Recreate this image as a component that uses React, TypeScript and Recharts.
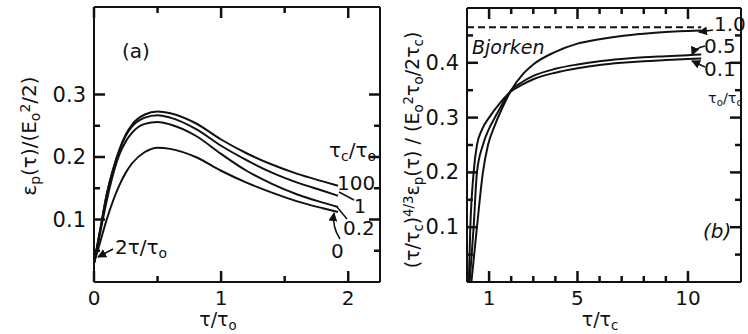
import { LineChart, Line, XAxis, YAxis } from 'recharts'

// panel (a): energy density vs tau/tau0, one curve per tau_c/tau_0
const tauA = [0, 0.05, 0.1, 0.15, 0.2, 0.25, 0.3, 0.4, 0.5, 0.6, 0.8, 1.0, 1.2, 1.4, 1.6, 1.8, 1.92]
const epsA100 = [0.03, 0.085, 0.14, 0.18, 0.212, 0.236, 0.252, 0.268, 0.273, 0.27, 0.254, 0.228, 0.206, 0.188, 0.173, 0.161, 0.154]
const epsA1 = [0.03, 0.085, 0.14, 0.18, 0.211, 0.234, 0.249, 0.263, 0.267, 0.263, 0.245, 0.218, 0.195, 0.175, 0.159, 0.146, 0.138]
const epsA02 = [0.03, 0.08, 0.13, 0.172, 0.204, 0.225, 0.239, 0.253, 0.256, 0.252, 0.234, 0.205, 0.178, 0.157, 0.14, 0.127, 0.12]
const epsA0 = [0.03, 0.065, 0.1, 0.13, 0.155, 0.175, 0.19, 0.208, 0.215, 0.213, 0.2, 0.178, 0.159, 0.143, 0.129, 0.118, 0.112]

const domXA = [0, 2.25]
const domYA = [0, 0.44]
const xTicksA = [0, 0.5, 1, 1.5, 2]
const xMajorA = [0, 1, 2]
const yTicksA = [0.05, 0.1, 0.15, 0.2, 0.25, 0.3]
const yMajorA = [0.1, 0.2, 0.3]

// panel (b): scaled energy density vs tau/tau_c, one curve per tau_0/tau_c
const tauB01 = [0.08, 0.15, 0.3, 0.45, 0.7, 1.0, 1.5, 2.0, 2.5, 3, 4, 5, 6, 7, 8, 9, 10, 10.6]
const epsB01 = [0.0, 0.1, 0.2, 0.25, 0.28, 0.3, 0.327, 0.348, 0.36, 0.37, 0.382, 0.39, 0.396, 0.4, 0.403, 0.405, 0.407, 0.408]
const tauB05 = [0.12, 0.3, 0.45, 0.72, 1.0, 1.26, 1.6, 2.0, 2.5, 3, 4, 5, 6, 7, 8, 9, 10, 10.6]
const epsB05 = [0.0, 0.1, 0.2, 0.25, 0.28, 0.3, 0.325, 0.35, 0.365, 0.376, 0.389, 0.397, 0.403, 0.407, 0.41, 0.412, 0.414, 0.415]
const tauB10 = [0.2, 0.45, 0.72, 0.95, 1.25, 1.6, 2.0, 2.5, 3, 4, 5, 6, 7, 8, 9, 10, 10.6]
const epsB10 = [0.0, 0.1, 0.2, 0.25, 0.285, 0.318, 0.35, 0.378, 0.397, 0.42, 0.435, 0.443, 0.449, 0.453, 0.456, 0.458, 0.459]
const tauBjorken = [0, 10.6]
const epsBjorken = [0.465, 0.465]

const domXB = [0, 12.4]
const domYB = [0, 0.5]
const xTicksB = [1, 2, 3, 4, 5, 6, 7, 8, 9, 10]
const xMajorB = [1, 5, 10]
const yTicksB = [0.05, 0.1, 0.15, 0.2, 0.25, 0.3, 0.35, 0.4, 0.45]
const yMajorB = [0.1, 0.2, 0.3, 0.4]

const zip = (xs: number[], ys: number[]) => xs.map((x, i) => ({ x, y: ys[i] }))
const isMajor = (majors: number[], v: number) => majors.some((m) => Math.abs(m - v) < 1e-9)

const FONT = '"DejaVu Sans", sans-serif'
const INK = '#111'

// plot boxes that the margins/axis sizes below produce
const boxA = { left: 94, right: 380, top: 7, bottom: 282 }
const boxB = { left: 467, right: 741, top: 8, bottom: 282 }

function makeLabel(side: 'left' | 'bottom' | 'none', majors: number[]) {
  return (props: any) => {
    const x = Number(props.x)
    const y = Number(props.y)
    const v = Number(props.payload.value)
    if (!isMajor(majors, v) || side === 'none') return <g />
    if (side === 'left')
      return (
        <text x={x - 8} y={y} textAnchor="end" dominantBaseline="central" fontFamily={FONT} fontSize={21} fill={INK}>
          {String(v)}
        </text>
      )
    return (
      <text x={x} y={y + 16} textAnchor="middle" dominantBaseline="central" fontFamily={FONT} fontSize={20} fill={INK}>
        {String(v)}
      </text>
    )
  }
}

// inward tick marks on all four sides of a frame
function FrameTicks(props: {
  box: { left: number; right: number; top: number; bottom: number }
  domX: number[]
  domY: number[]
  xTicks: number[]
  xMajor: number[]
  yTicks: number[]
  yMajor: number[]
}) {
  const { box, domX, domY } = props
  const sx = (v: number) => box.left + ((v - domX[0]) / (domX[1] - domX[0])) * (box.right - box.left)
  const sy = (v: number) => box.bottom - ((v - domY[0]) / (domY[1] - domY[0])) * (box.bottom - box.top)
  const segs: { x1: number; y1: number; x2: number; y2: number }[] = []
  props.xTicks.forEach((v) => {
    const len = isMajor(props.xMajor, v) ? 11 : 6
    segs.push({ x1: sx(v), y1: box.bottom, x2: sx(v), y2: box.bottom - len })
    segs.push({ x1: sx(v), y1: box.top, x2: sx(v), y2: box.top + len })
  })
  props.yTicks.forEach((v) => {
    const len = isMajor(props.yMajor, v) ? 11 : 6
    segs.push({ x1: box.left, y1: sy(v), x2: box.left + len, y2: sy(v) })
    segs.push({ x1: box.right, y1: sy(v), x2: box.right - len, y2: sy(v) })
  })
  return (
    <g>
      {segs.map((s, i) => (
        <line key={i} x1={s.x1} y1={s.y1} x2={s.x2} y2={s.y2} stroke={INK} strokeWidth={2.5} />
      ))}
    </g>
  )
}

const axisLine = { stroke: INK, strokeWidth: 2 }
const frame = { tickSize: 0, tickMargin: 0, interval: 0 as const, axisLine, tickLine: false }
const lineProps = { dataKey: 'y', type: 'monotone' as const, stroke: INK, strokeWidth: 2, dot: false, isAnimationActive: false }

function Sub({ children }: { children: string }) {
  return <tspan baselineShift="-28%" fontSize="0.7em">{children}</tspan>
}
function Sup({ children }: { children: string }) {
  return <tspan baselineShift="45%" fontSize="0.7em">{children}</tspan>
}

export default function App() {
  const tStyle = { fontFamily: FONT, fill: INK } as const

  return (
    <div style={{ position: 'absolute', left: 0, top: 0, width: 748, height: 334, background: '#fff' }}>
      <div style={{ position: 'absolute', left: 0, top: 0 }}>
        <LineChart width={400} height={334} margin={{ top: 6, right: 19, bottom: 0, left: 0 }}>
          <XAxis dataKey="x" type="number" domain={domXA} ticks={xTicksA} height={52} {...frame} tick={makeLabel('bottom', xMajorA)} />
          <XAxis xAxisId="t" dataKey="x" orientation="top" type="number" domain={domXA} ticks={xTicksA} height={1} {...frame}
            tick={makeLabel('none', xMajorA)} />
          <YAxis type="number" domain={domYA} ticks={yTicksA} width={94} {...frame} tick={makeLabel('left', yMajorA)} />
          <YAxis yAxisId="r" orientation="right" type="number" domain={domYA} ticks={yTicksA} width={1} {...frame}
            tick={makeLabel('none', yMajorA)} />
          <Line data={zip(tauA, epsA100)} {...lineProps} />
          <Line data={zip(tauA, epsA1)} {...lineProps} />
          <Line data={zip(tauA, epsA02)} {...lineProps} />
          {/* same domains, so this one can hang on the top/right axes */}
          <Line data={zip(tauA, epsA0)} xAxisId="t" yAxisId="r" {...lineProps} />
        </LineChart>
      </div>

      <div style={{ position: 'absolute', left: 380, top: 0 }}>
        <LineChart width={368} height={334} margin={{ top: 7, right: 6, bottom: 0, left: 0 }}>
          <XAxis dataKey="x" type="number" domain={domXB} ticks={xTicksB} height={52} {...frame} tick={makeLabel('bottom', xMajorB)} />
          <XAxis xAxisId="t" dataKey="x" orientation="top" type="number" domain={domXB} ticks={xTicksB} height={1} {...frame}
            tick={makeLabel('none', xMajorB)} />
          <YAxis type="number" domain={domYB} ticks={yTicksB} width={87} {...frame} tick={makeLabel('left', yMajorB)} />
          <YAxis yAxisId="r" orientation="right" type="number" domain={domYB} ticks={yTicksB} width={1} {...frame}
            tick={makeLabel('none', yMajorB)} />
          <Line data={zip(tauBjorken, epsBjorken)} xAxisId="t" yAxisId="r" {...lineProps} type="linear" strokeDasharray="7 4" />
          <Line data={zip(tauB01, epsB01)} {...lineProps} />
          <Line data={zip(tauB05, epsB05)} {...lineProps} />
          <Line data={zip(tauB10, epsB10)} {...lineProps} />
        </LineChart>
      </div>

      <svg width={748} height={334} style={{ position: 'absolute', left: 0, top: 0, pointerEvents: 'none' }}>
        <defs>
          <marker id="ah" viewBox="0 0 10 10" refX="9" refY="5" markerWidth="6" markerHeight="6" orient="auto">
            <path d="M0,0 L10,5 L0,10 z" fill={INK} />
          </marker>
        </defs>

        <FrameTicks box={boxA} domX={domXA} domY={domYA} xTicks={xTicksA} xMajor={xMajorA} yTicks={yTicksA} yMajor={yMajorA} />
        <FrameTicks box={boxB} domX={domXB} domY={domYB} xTicks={xTicksB} xMajor={xMajorB} yTicks={yTicksB} yMajor={yMajorB} />

        {/* panel (a) annotations */}
        <text x={122} y={58} fontSize={20} {...tStyle}>(a)</text>
        <text x={115} y={254} fontSize={20} {...tStyle}>2τ/τ<Sub>o</Sub></text>
        <line x1={113} y1={249} x2={98} y2={257} stroke={INK} strokeWidth={1.5} markerEnd="url(#ah)" />
        <text x={329} y={157} fontSize={20} {...tStyle}>τ<Sub>c</Sub>/τ<Sub>o</Sub></text>
        <text x={337} y={190} fontSize={20} {...tStyle}>100</text>
        <text x={354} y={213} fontSize={19} {...tStyle}>1</text>
        <line x1={354} y1={200} x2={339} y2={192} stroke={INK} strokeWidth={1.5} />
        <text x={343} y={235} fontSize={20} {...tStyle}>0.2</text>
        <line x1={347} y1={219} x2={337} y2={207} stroke={INK} strokeWidth={1.5} />
        <text x={331} y={258} fontSize={20} {...tStyle}>0</text>
        <path d="M340,239 Q332,227 334,213" fill="none" stroke={INK} strokeWidth={1.5} markerEnd="url(#ah)" />
        <text x={36} y={136} fontSize={20} textAnchor="middle" transform="rotate(-90 36 136)" {...tStyle}>
          ε<Sub>p</Sub>(τ)/(E<Sub>o</Sub><Sup>2</Sup>/2)
        </text>
        <text x={218} y={326} fontSize={19} textAnchor="middle" {...tStyle}>τ/τ<Sub>o</Sub></text>

        {/* panel (b) annotations */}
        <text x={472} y={54} fontSize={19} fontStyle="italic" {...tStyle}>Bjorken</text>
        <text x={714} y={31} fontSize={20} {...tStyle}>1.0</text>
        <line x1={713} y1={30} x2={699} y2={32} stroke={INK} strokeWidth={1.5} markerEnd="url(#ah)" />
        <text x={704} y={53} fontSize={20} {...tStyle}>0.5</text>
        <path d="M705,46 Q695,48 692,55" fill="none" stroke={INK} strokeWidth={1.5} markerEnd="url(#ah)" />
        <text x={704} y={76} fontSize={20} {...tStyle}>0.1</text>
        <line x1={705} y1={67} x2={692} y2={61} stroke={INK} strokeWidth={1.5} markerEnd="url(#ah)" />
        <text x={708} y={103} fontSize={14.5} {...tStyle}>τ<Sub>o</Sub>/τ<Sub>c</Sub></text>
        <text x={703} y={238} fontSize={20} fontStyle="italic" {...tStyle}>(b)</text>
        <text x={419} y={150} fontSize={19} textAnchor="middle" transform="rotate(-90 419 150)" {...tStyle}>
          (τ/τ<Sub>c</Sub>)<Sup>4/3</Sup>ε<Sub>p</Sub>(τ) / (E<Sub>o</Sub><Sup>2</Sup>τ<Sub>o</Sub>/2τ<Sub>c</Sub>)
        </text>
        <text x={600} y={326} fontSize={19} textAnchor="middle" {...tStyle}>τ/τ<Sub>c</Sub></text>
      </svg>
    </div>
  )
}
